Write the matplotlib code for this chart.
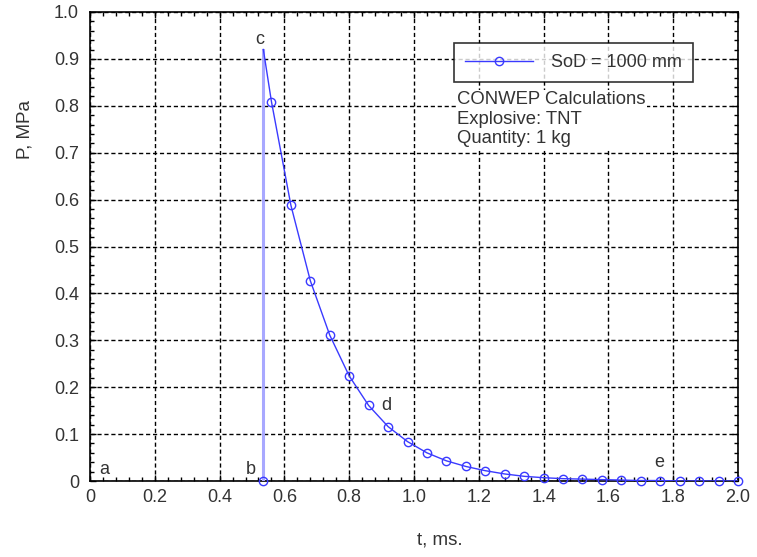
import numpy as np
import matplotlib.pyplot as plt
from matplotlib.ticker import MultipleLocator

plt.rcParams['font.family'] = ['Liberation Sans', 'DejaVu Sans']

# arrival point (b -> c)
t_arr = 0.535
p_peak = 0.92

# decay curve, sampled points (t in ms, P in MPa)
t_pts = [0.56, 0.62, 0.68, 0.74, 0.80, 0.86, 0.92, 0.98, 1.04, 1.10,
         1.16, 1.22, 1.28, 1.34, 1.40, 1.46, 1.52, 1.58, 1.64, 1.70,
         1.76, 1.82, 1.88, 1.94, 2.00]
p_pts = [0.809, 0.588, 0.427, 0.311, 0.224, 0.161, 0.116, 0.084, 0.060, 0.043,
         0.031, 0.022, 0.015, 0.010, 0.007, 0.005, 0.004, 0.003, 0.002, 0.001,
         0.001, 0.0, 0.0, 0.0, 0.0]

labels = ['a', 'b', 'c', 'd', 'e']
label_t = [0.03, 0.482, 0.51, 0.90, 1.742]
label_p = [0.015, 0.015, 0.932, 0.152, 0.03]

blue = '#3a3aff'
txt = '#333333'

fig = plt.figure(figsize=(7.57, 5.57), dpi=100)
ax = fig.add_axes([90/757, 1-481/557, 648/757, 469/557])

# vertical rise b -> c
ax.plot([t_arr, t_arr], [0, p_peak], color='#a8a8ff', lw=2.2, zorder=3)
ax.plot([t_arr], [0], 'o', mfc='none', mec=blue, ms=6, mew=1, zorder=4, clip_on=False)
# decay with markers
ax.plot([t_arr] + t_pts, [p_peak] + p_pts, '-', color=blue, lw=1, zorder=4)
ax.plot(t_pts, p_pts, 'o', mfc='none', mec=blue, ms=6, mew=1, zorder=5, clip_on=False)
# legend handle
leg_line, = ax.plot([], [], '-o', color=blue, mfc='none', mec=blue, ms=6, mew=1, lw=1)

ax.set_xlim(0, 2.0)
ax.set_ylim(0, 1.0)
ax.xaxis.set_minor_locator(MultipleLocator(0.04))
ax.yaxis.set_minor_locator(MultipleLocator(0.02))
ax.set_xticks(np.arange(0, 2.01, 0.2))
ax.set_xticklabels(['0'] + ['%.1f' % v for v in np.arange(0.2, 2.01, 0.2)])
ax.set_yticks(np.arange(0, 1.01, 0.1))
ax.set_yticklabels(['0'] + ['%.1f' % v for v in np.arange(0.1, 1.01, 0.1)])
ax.tick_params(which='both', direction='in', top=True, right=True, colors='black',
               labelcolor=txt, labelsize=13)
ax.tick_params(which='major', length=4, width=1)
ax.tick_params(which='minor', length=3, width=1)
ax.tick_params(axis='x', pad=6)
ax.tick_params(axis='y', pad=8)
for s in ax.spines.values():
    s.set_linewidth(1.2)

ax.grid(True, which='major', color='black', linestyle=(0, (3, 2)), linewidth=1)

for lb, x, y in zip(labels, label_t, label_p):
    ax.text(x, y, lb, fontsize=13, color=txt)

leg = ax.legend([leg_line], ['SoD = 1000 mm'], loc='upper left',
                bbox_to_anchor=(364/648, 1-31/469), fontsize=13, frameon=True,
                fancybox=False, edgecolor='black', borderpad=0.6, handlelength=3.8,
                handletextpad=1.0, borderaxespad=0)
leg.get_frame().set_linewidth(1.2)
for t in leg.get_texts():
    t.set_color(txt)

ax.text(367/648, 1-79/469, 'CONWEP Calculations\nExplosive: TNT\nQuantity: 1 kg',
        transform=ax.transAxes, va='top', ha='left', fontsize=13.3, color=txt,
        linespacing=1.2, bbox=dict(facecolor='white', edgecolor='none', pad=1))

ax.set_xlabel('t, ms.', fontsize=13.5, color=txt)
ax.xaxis.set_label_coords(0.54, -0.108)
ax.set_ylabel('P, MPa', fontsize=13.5, color=txt)
ax.yaxis.set_label_coords(-0.087, 0.75)

fig.savefig('out.png', dpi=100)
